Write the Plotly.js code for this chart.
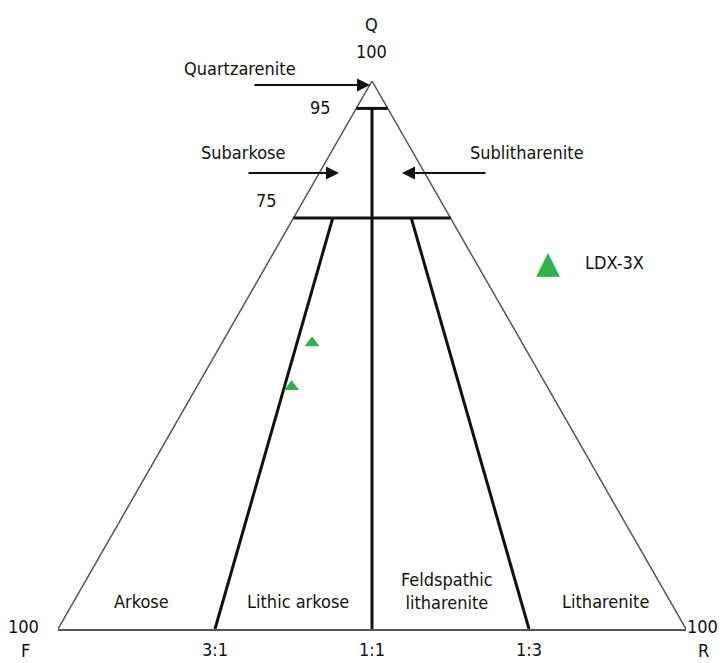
<!DOCTYPE html>
<html>
<head>
<meta charset="utf-8">
<script src="https://cdn.plot.ly/plotly-3.0.1.min.js"></script>
<style>html,body{margin:0;padding:0;background:#fff;}#chart{width:728px;height:663px;}</style>
</head>
<body>
<div id="chart"></div>
<script>
// ---- data (ternary percentages: Q = quartz, F = feldspar, R = rock fragments) ----
const Q_LEVELS = [95, 75];                 // horizontal class boundaries (Q %)
const RATIO_LABELS = ['3:1', '1:1', '1:3']; // F:R ratio boundaries
const RATIO_F_SHARE = [0.75, 0.5, 0.25];   // F/(F+R) for each ratio line
const RATIO_TOP_Q = [75, 95, 75];          // Q level where each ratio line starts
const SAMPLE_NAME = 'LDX-3X';
const SAMPLE_Q = [52.2, 44.2];
const SAMPLE_F = [33.45, 40.7];
const SAMPLE_R = [14.35, 15.1];
const FIELD_NAMES = ['Quartzarenite', 'Subarkose', 'Sublitharenite', 'Arkose', 'Lithic arkose', 'Feldspathic<br>litharenite', 'Litharenite'];
const SAMPLE_COLOR = '#2db34a';

// ternary -> cartesian (x along base F..R, y = Q)
function tx(q, f, r) { return r + q / 2; }
function ty(q) { return q; }

const FONT = '"Liberation Sans Narrow", "DejaVu Sans Condensed", "Arial Narrow", sans-serif';
const traces = [];

// triangle edges
traces.push({x: [tx(0,100,0), tx(100,0,0), tx(0,0,100)], y: [ty(0), ty(100), ty(0)],
  mode: 'lines', line: {color: '#555', width: 1.5}, showlegend: false, hoverinfo: 'skip', cliponaxis: false});

// horizontal Q boundaries
Q_LEVELS.forEach(q => {
  const rest = 100 - q;
  traces.push({x: [tx(q, rest, 0), tx(q, 0, rest)], y: [ty(q), ty(q)],
    mode: 'lines', line: {color: '#111', width: 3}, showlegend: false, hoverinfo: 'skip', cliponaxis: false});
});

// F:R ratio lines
RATIO_F_SHARE.forEach((p, i) => {
  const q0 = RATIO_TOP_Q[i];
  const rest = 100 - q0;
  traces.push({x: [tx(q0, rest * p, rest * (1 - p)), tx(0, 100 * p, 100 * (1 - p))],
    y: [ty(q0), ty(0)], mode: 'lines', line: {color: '#111', width: 3},
    showlegend: false, hoverinfo: 'skip', cliponaxis: false});
});

// samples
traces.push({x: SAMPLE_Q.map((q, i) => tx(q, SAMPLE_F[i], SAMPLE_R[i])), y: SAMPLE_Q.map(ty),
  mode: 'markers', name: SAMPLE_NAME, showlegend: false,
  marker: {symbol: 'triangle-up', size: 13, color: SAMPLE_COLOR}, cliponaxis: false});

// pixel helpers for label placement (plot area: 58..686 x 81..629)
function px(x) { return (x - 58) / 628; }
function py(y) { return (629 - y) / 548; }
function label(text, x, y, extra) {
  return Object.assign({text: text, xref: 'paper', yref: 'paper', x: px(x), y: py(y),
    xanchor: 'center', yanchor: 'middle', showarrow: false,
    font: {family: FONT, size: 18, color: '#111'}}, extra || {});
}
function arrow(x, y, ax) {
  return {text: '', xref: 'paper', yref: 'paper', x: px(x), y: py(y), ax: ax, ay: 0,
    showarrow: true, arrowhead: 2, arrowsize: 1.3, arrowwidth: 2, arrowcolor: '#111'};
}

const annotations = [
  label('Q', 371, 25),
  label('100', 371, 51),
  label(FIELD_NAMES[0], 240, 69),
  arrow(370, 85, -117),
  label(String(Q_LEVELS[0]), 320, 108),
  label(FIELD_NAMES[1], 243, 152),
  arrow(339, 173, -92),
  label(FIELD_NAMES[2], 527, 152),
  arrow(402, 173, 85),
  label(String(Q_LEVELS[1]), 266, 201),
  label(FIELD_NAMES[3], 141, 601),
  label(FIELD_NAMES[4], 298, 601),
  label(FIELD_NAMES[5], 447, 591),
  label(FIELD_NAMES[6], 605, 601),
  label('100', 23, 626),
  label('F', 25, 650),
  label('100', 702, 626),
  label('R', 703, 650),
  // legend key
  label('\u25B2', 548, 262, {font: {family: 'DejaVu Sans', size: 31, color: SAMPLE_COLOR}}),
  label(SAMPLE_NAME, 583, 262, {xanchor: 'left'})
];

const layout = {
  width: 728, height: 663,
  margin: {l: 58, r: 42, t: 81, b: 34},
  paper_bgcolor: '#fff', plot_bgcolor: 'rgba(0,0,0,0)',
  font: {family: FONT, size: 18, color: '#111'},
  xaxis: {range: [0, 100], showgrid: false, zeroline: false, showline: true, linecolor: '#555', linewidth: 2,
    tickmode: 'array', tickvals: RATIO_F_SHARE.map(p => tx(0, 100 * p, 100 * (1 - p))), ticktext: RATIO_LABELS,
    ticks: 'outside', ticklen: 3, tickcolor: 'rgba(0,0,0,0)', tickfont: {family: FONT, size: 18, color: '#111'}, fixedrange: true},
  yaxis: {range: [0, 100], visible: false, fixedrange: true},
  showlegend: false,
  annotations: annotations
};

Plotly.newPlot('chart', traces, layout, {displayModeBar: false, staticPlot: true});
</script>
</body>
</html>
